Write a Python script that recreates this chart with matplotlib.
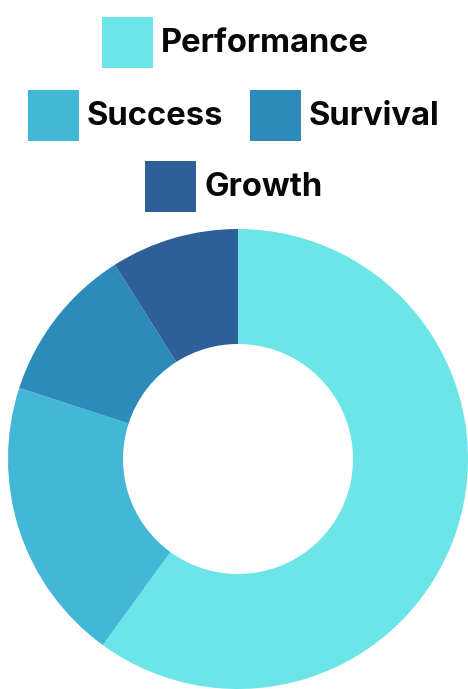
import matplotlib.pyplot as plt
from matplotlib.patches import Rectangle

labels = ['Performance', 'Success', 'Survival', 'Growth']
values = [60, 20, 11, 9]
colors = ['#6be5e8', '#42b7d6', '#2d8bba', '#2e5f99']

W, H = 468, 689
fig = plt.figure(figsize=(W / 100, H / 100), dpi=100)

# donut
ax = fig.add_axes([8 / W, 0, 460 / W, 460 / H])
ax.pie(values, colors=colors, startangle=90, counterclock=False,
       radius=1.0, wedgeprops=dict(width=0.5, linewidth=0))
ax.set_xlim(-1, 1)
ax.set_ylim(-1, 1)
ax.set_aspect('equal')
ax.axis('off')

# legend drawn by hand: rows of (label index, box x, box top y) in pixels
legend_rows = [[(0, 102, 17)], [(1, 28, 90), (2, 250, 90)], [(3, 145, 161)]]
box = 51
for row in legend_rows:
    for idx, x, y in row:
        fig.patches.append(Rectangle((x / W, 1 - (y + box) / H), box / W, box / H,
                                     transform=fig.transFigure, facecolor=colors[idx],
                                     edgecolor='none'))
        fig.text((x + box + 8) / W, 1 - (y + box / 2 + 1) / H, labels[idx],
                 fontsize=23.6, fontweight='bold', family='Inter',
                 color='#080808', va='center', ha='left')

fig.savefig('out.png', dpi=100, facecolor='white')
